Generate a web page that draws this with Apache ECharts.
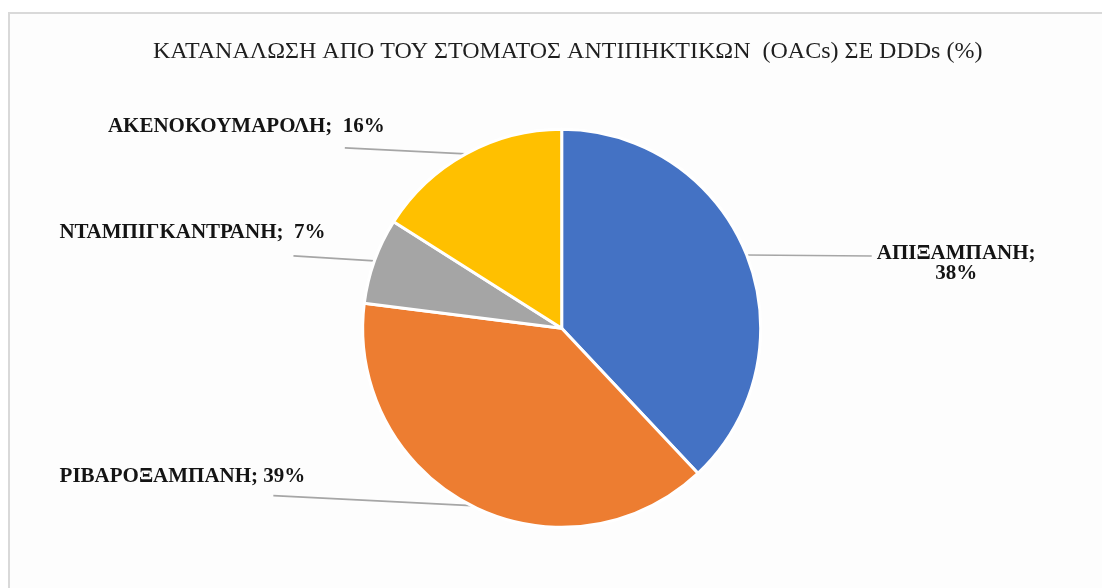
<!DOCTYPE html>
<html>
<head>
<meta charset="utf-8">
<script src="https://cdn.jsdelivr.net/npm/echarts@6/dist/echarts.min.js"></script>
<style>
  html, body { margin: 0; padding: 0; background: #ffffff; }
  #frame { position: absolute; left: 8px; top: 12px; width: 1100px; height: 580px;
           border-left: 2px solid #d9d9d9; border-top: 2px solid #d9d9d9; background: #fdfdfd; }
  #chart { position: absolute; left: 0; top: 0; width: 1102px; height: 588px; }
</style>
</head>
<body>
<div id="frame"></div>
<div id="chart"></div>
<script>
// Share of oral anticoagulant consumption (DDDs), in percent
const titleText = 'ΚΑΤΑΝΑΛΩΣΗ ΑΠΟ ΤΟΥ ΣΤΟΜΑΤΟΣ ΑΝΤΙΠΗΚΤΙΚΩΝ  (OACs) ΣΕ DDDs (%)';
const drugs = ['ΑΠΙΞΑΜΠΑΝΗ', 'ΡΙΒΑΡΟΞΑΜΠΑΝΗ', 'ΝΤΑΜΠΙΓΚΑΝΤΡΑΝΗ', 'ΑΚΕΝΟΚΟΥΜΑΡΟΛΗ'];
const shares = [38, 39, 7, 16];
const colors = ['#4472c4', '#ed7d31', '#a5a5a5', '#ffc000'];

// label text formats, per slice
const labelFormats = ['{b};\n{c}%', '{b}; {c}%', '{b};  {c}%', '{b};  {c}%'];

// leader line run (dx, dy) from the slice edge, and label offset (gap, dy) from the line end
const leaderRun = [[125, 1], [-198, -10], [-81, -5], [-121, -6]];
const labelOffset = [[5, -3], [32, -19], [32, -23], [40, -21]];

const chart = echarts.init(document.getElementById('chart'), null, { renderer: 'canvas' });

chart.setOption({
  backgroundColor: 'transparent',
  animation: false,
  title: {
    text: titleText,
    left: 148,
    top: 35,
    textStyle: { fontFamily: 'Liberation Serif', fontWeight: 'normal', fontSize: 24, color: '#1f1f1f' }
  },
  series: [{
    type: 'pie',
    center: ['50.97%', '55.83%'],
    radius: 199,
    startAngle: 90,
    clockwise: true,
    itemStyle: { borderColor: '#ffffff', borderWidth: 3 },
    label: {
      show: true,
      position: 'outside',
      fontFamily: 'Liberation Serif',
      fontWeight: 'bold',
      fontSize: 21,
      color: '#141414',
      lineHeight: 20
    },
    labelLine: { show: true, length: 5, length2: 20, lineStyle: { color: '#a6a6a6', width: 1.6 } },
    labelLayout: function (p) {
      const i = p.dataIndex;
      const start = p.labelLinePoints[0];
      const end = [start[0] + leaderRun[i][0], start[1] + leaderRun[i][1]];
      const off = labelOffset[i];
      const onRight = leaderRun[i][0] > 0;
      return {
        // right-side label: block starts just after the line end, lines centred within it;
        // left-side labels: block ends a little past the line end
        x: onRight ? end[0] + off[0] + p.labelRect.width / 2 : end[0] + off[0],
        y: end[1] + off[1] + (onRight ? p.labelRect.height / 2 - 10 : 0),
        align: onRight ? 'center' : 'right',
        verticalAlign: 'middle',
        labelLinePoints: [start, end, end]
      };
    },
    data: drugs.map((name, i) => ({
      name: name,
      value: shares[i],
      itemStyle: { color: colors[i] },
      label: { formatter: labelFormats[i], align: i === 0 ? 'center' : 'right' }
    }))
  }]
});
</script>
</body>
</html>
